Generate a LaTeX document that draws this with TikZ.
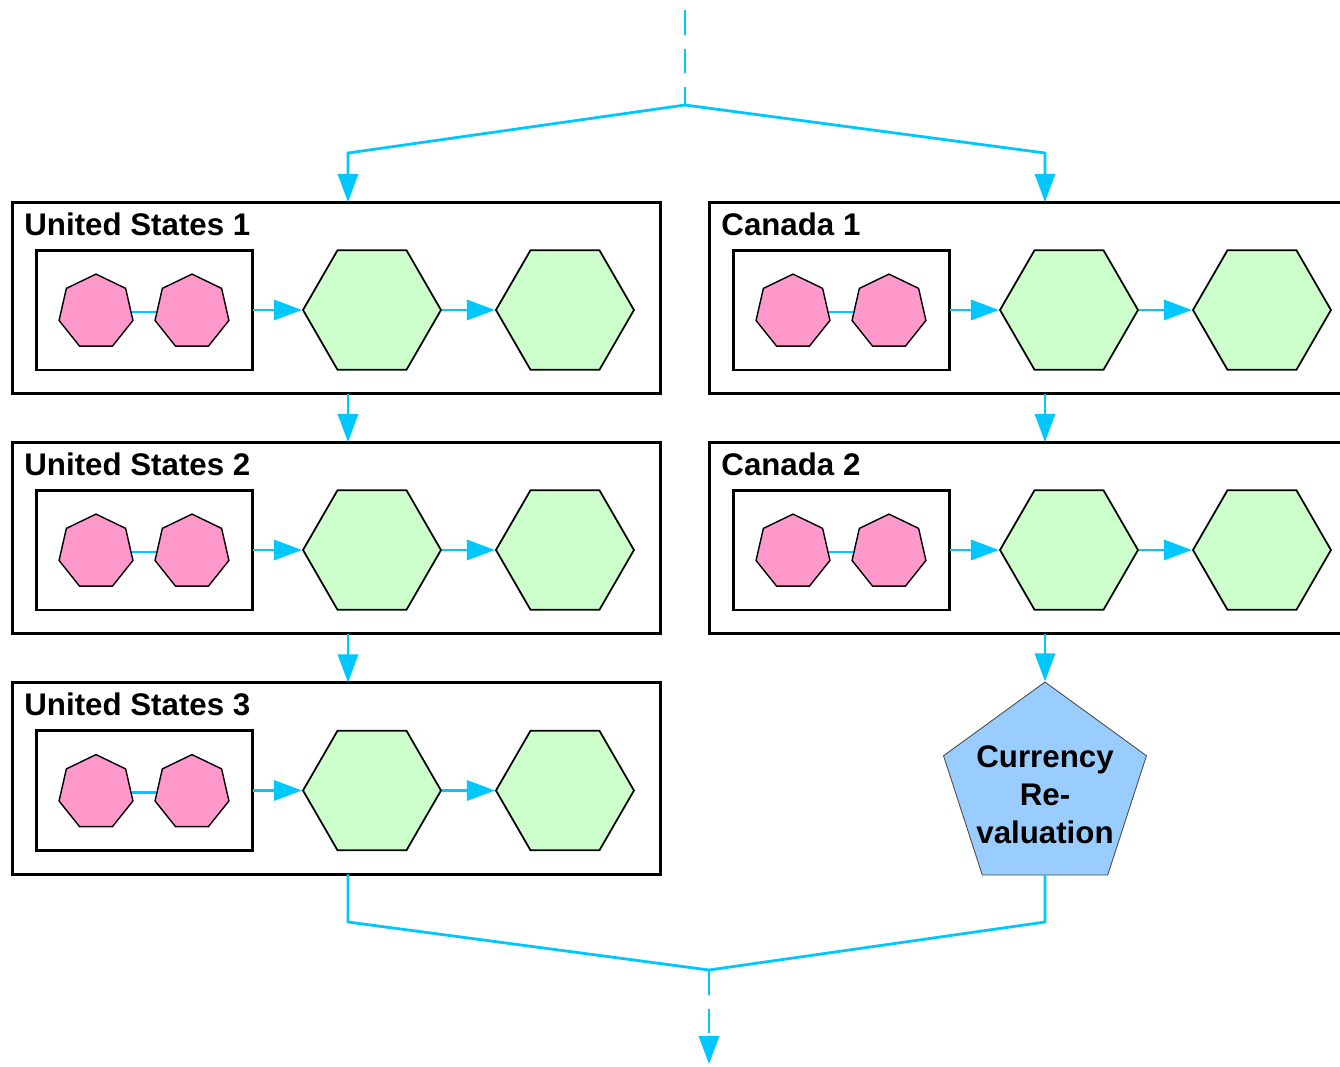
\documentclass[tikz,border=0pt]{standalone}
\usepackage{fontspec}
\setmainfont{Liberation Sans}
\usetikzlibrary{arrows.meta,shapes.geometric}
\definecolor{flowblue}{RGB}{0,200,255}
\definecolor{heptpink}{RGB}{255,153,204}
\definecolor{hexgreen}{RGB}{204,255,204}
\definecolor{pentblue}{RGB}{153,204,255}

\begin{document}
\begin{tikzpicture}[x=0.02cm,y=-0.02cm,>={Triangle[length=16pt,width=11.5pt]},
  flow/.style={->,color=flowblue,draw,line width=1.6pt},
  flow dash/.style={flow,dash pattern=on 14pt off 8pt},
  group box/.style={rectangle,draw,line width=1.7pt,minimum width=12.98cm,minimum height=3.84cm,outer sep=0pt},
  inner box/.style={rectangle,draw,line width=1.7pt,minimum width=4.34cm,minimum height=2.4cm,outer sep=0pt},
  group title/.style={anchor=base west,inner sep=0pt,font=\fontsize{17.8}{21.9}\selectfont\bfseries},
  hept node/.style={regular polygon,regular polygon sides=7,draw,fill=heptpink,line width=0.8pt,minimum size=1.516cm,inner sep=0pt},
  hex node/.style={regular polygon,regular polygon sides=6,draw,fill=hexgreen,line width=1pt,minimum size=2.76cm,inner sep=0pt},
  pent node/.style={regular polygon,regular polygon sides=5,draw=black!70,fill=pentblue,line width=0.5pt,minimum size=4.268cm,inner sep=0pt}]

  \useasboundingbox (0,0) rectangle (1340,1066);

  % United States 1
  \node[group box] (us1) at (336.5,298) {};
  \node[group title] (us1 title) at ([shift={(12,33)}]us1.north west) {United States 1};
  \node[inner box] (us1 in) at ([shift={(-192,12)}]us1.center) {};
  \node[hept node] (us1 p) at ([shift={(-48.5,2)}]us1 in.center) {};
  \node[hept node] (us1 q) [right of=us1 p,node distance=1.92cm] {};
  \node[hex node] (us1 h) at ([shift={(227.5,0)}]us1 in.center) {};
  \node[hex node] (us1 k) [right of=us1 h,node distance=3.86cm] {};

  % United States 2
  \node[group box] (us2) at (336.5,538) {};
  \node[group title] (us2 title) at ([shift={(12,33)}]us2.north west) {United States 2};
  \node[inner box] (us2 in) at ([shift={(-192,12)}]us2.center) {};
  \node[hept node] (us2 p) at ([shift={(-48.5,2)}]us2 in.center) {};
  \node[hept node] (us2 q) [right of=us2 p,node distance=1.92cm] {};
  \node[hex node] (us2 h) at ([shift={(227.5,0)}]us2 in.center) {};
  \node[hex node] (us2 k) [right of=us2 h,node distance=3.86cm] {};

  % United States 3
  \node[group box] (us3) at (336.5,778.5) {};
  \node[group title] (us3 title) at ([shift={(12,33)}]us3.north west) {United States 3};
  \node[inner box] (us3 in) at ([shift={(-192,12)}]us3.center) {};
  \node[hept node] (us3 p) at ([shift={(-48.5,2)}]us3 in.center) {};
  \node[hept node] (us3 q) [right of=us3 p,node distance=1.92cm] {};
  \node[hex node] (us3 h) at ([shift={(227.5,0)}]us3 in.center) {};
  \node[hex node] (us3 k) [right of=us3 h,node distance=3.86cm] {};

  % Canada 1
  \node[group box] (ca1) at (1033.5,298) {};
  \node[group title] (ca1 title) at ([shift={(12,33)}]ca1.north west) {Canada 1};
  \node[inner box] (ca1 in) at ([shift={(-192,12)}]ca1.center) {};
  \node[hept node] (ca1 p) at ([shift={(-48.5,2)}]ca1 in.center) {};
  \node[hept node] (ca1 q) [right of=ca1 p,node distance=1.92cm] {};
  \node[hex node] (ca1 h) at ([shift={(227.5,0)}]ca1 in.center) {};
  \node[hex node] (ca1 k) [right of=ca1 h,node distance=3.86cm] {};

  % Canada 2
  \node[group box] (ca2) at (1033.5,538) {};
  \node[group title] (ca2 title) at ([shift={(12,33)}]ca2.north west) {Canada 2};
  \node[inner box] (ca2 in) at ([shift={(-192,12)}]ca2.center) {};
  \node[hept node] (ca2 p) at ([shift={(-48.5,2)}]ca2 in.center) {};
  \node[hept node] (ca2 q) [right of=ca2 p,node distance=1.92cm] {};
  \node[hex node] (ca2 h) at ([shift={(227.5,0)}]ca2 in.center) {};
  \node[hex node] (ca2 k) [right of=ca2 h,node distance=3.86cm] {};

  % currency step
  \node[pent node] (reval) at (1045,788.7) {};
  \node[align=center,inner sep=0pt,font=\fontsize{17.8}{21.7}\selectfont\bfseries] (reval text) at (1045,794.5) {Currency\\Re-\\valuation};

  \path[flow]
    (us1 p) edge[-] (us1 q) (us1 in) edge (us1 h) (us1 h) edge (us1 k)
    (us2 p) edge[-] (us2 q) (us2 in) edge (us2 h) (us2 h) edge (us2 k)
    (us3 p) edge[-] (us3 q) (us3 in) edge (us3 h) (us3 h) edge (us3 k)
    (ca1 p) edge[-] (ca1 q) (ca1 in) edge (ca1 h) (ca1 h) edge (ca1 k)
    (ca2 p) edge[-] (ca2 q) (ca2 in) edge (ca2 h) (ca2 h) edge (ca2 k);

  \coordinate (top) at (685,10);
  \coordinate (fork) at (685,105);
  \coordinate (us col) at (348,153);
  \coordinate (ca col) at (1045,153);
  \coordinate (us join) at (348,922);
  \coordinate (ca join) at (1045,922);
  \coordinate (merge) at (709,970);
  \coordinate (bottom) at (709,1064);

  \draw[flow dash,-] (top) -- (fork);
  \draw[flow,<->] (us1.north -| us col) -- (us col) -- (fork) -- (ca col) -- (ca1.north -| ca col);
  \draw[flow] (us1.south -| us col) -- (us2.north -| us col);
  \draw[flow] (us2.south -| us col) -- (us3.north -| us col);
  \draw[flow] (ca1.south -| ca col) -- (ca2.north -| ca col);
  \draw[flow] (ca2.south -| ca col) -- (reval.north);
  \draw[flow,-] (us3.south -| us col) -- (us join) -- (merge) -- (ca join) -- (reval.south);
  \draw[flow dash] (merge) -- (bottom);
\end{tikzpicture}
\end{document}
